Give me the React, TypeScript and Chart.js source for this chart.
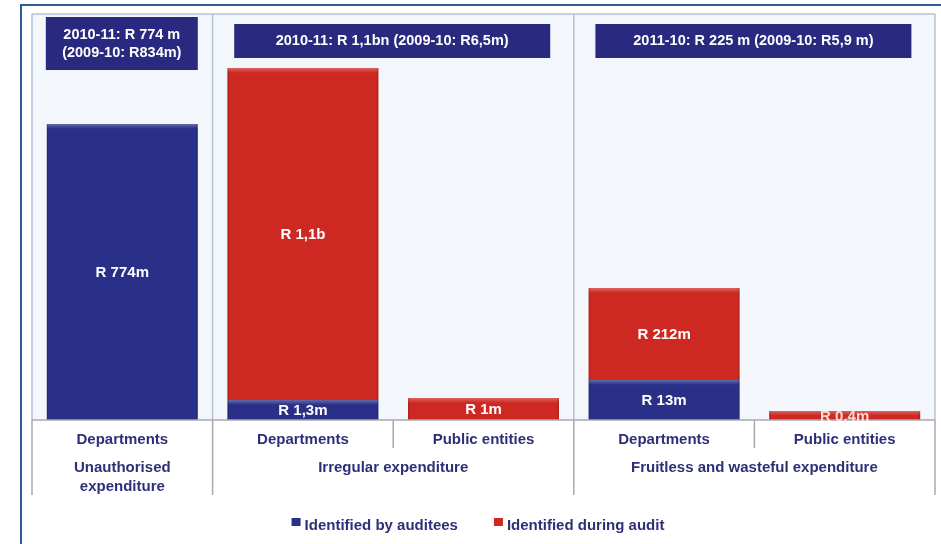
import React, { useEffect, useRef } from "react";
import { Chart, registerables } from "chart.js";

Chart.register(...registerables);

// Categories (bars) and their groups
const categories = ["Departments", "Departments", "Public entities", "Departments", "Public entities"];
const groupSpans = [[0, 0], [1, 2], [3, 4]];
const groupLabels = [["Unauthorised", "expenditure"], ["Irregular expenditure"], ["Fruitless and wasteful expenditure"]];
const headerLines = [
  ["2010-11: R 774 m", "(2009-10: R834m)"],
  ["2010-11: R 1,1bn (2009-10: R6,5m)"],
  ["2011-10: R 225 m (2009-10: R5,9 m)"],
];

// Series: the source graphic is not drawn to scale, so these are the drawn bar heights
// (relative units read from the picture); the real amounts are in the label arrays.
const seriesNames = ["Identified by auditees", "Identified during audit"];
const auditeesHeights = [296, 20, 0, 40, 0];
const auditHeights = [0, 332, 22, 92, 9];
const auditeesLabels = ["R 774m", "R 1,3m", "", "R 13m", ""];
const auditLabels = ["", "R 1,1b", "R 1m", "R 212m", "R 0,4m"];
const yMax = 406;

const BLUE = "#2a2f87";
const RED = "#cd2822";
const NAVY_TEXT = "#2e2f78";
const FONT = "'Liberation Sans', Arial, sans-serif";

const decorPlugin = {
  id: "decor",
  beforeDraw(chart: any) {
    const ctx = chart.ctx;
    const area = chart.chartArea;
    const xs = chart.scales.x;
    ctx.save();
    ctx.fillStyle = "#ffffff";
    ctx.fillRect(0, 0, chart.width, chart.height);
    // outer frame
    ctx.strokeStyle = "#2d5c9c";
    ctx.lineWidth = 2;
    ctx.beginPath();
    ctx.moveTo(21, chart.height);
    ctx.lineTo(21, 5);
    ctx.lineTo(chart.width, 5);
    ctx.stroke();
    // panel background
    ctx.fillStyle = "#f3f6fa";
    ctx.fillRect(area.left, area.top, area.right - area.left, area.bottom - area.top);
    ctx.strokeStyle = "#b4c2d6";
    ctx.lineWidth = 1.5;
    ctx.beginPath();
    ctx.moveTo(area.left, area.top);
    ctx.lineTo(area.right, area.top);
    ctx.stroke();
    // group separators
    const bottomY = area.bottom + 75;
    const bounds: number[] = [area.left];
    for (let g = 1; g < groupSpans.length; g++) {
      const a = xs.getPixelForValue(groupSpans[g - 1][1]);
      const b = xs.getPixelForValue(groupSpans[g][0]);
      bounds.push((a + b) / 2);
    }
    bounds.push(area.right);
    bounds.forEach((x) => {
      ctx.strokeStyle = "#b4c2d6";
      ctx.beginPath();
      ctx.moveTo(x, area.top);
      ctx.lineTo(x, area.bottom);
      ctx.stroke();
      ctx.strokeStyle = "#a8a8b0";
      ctx.beginPath();
      ctx.moveTo(x, area.bottom);
      ctx.lineTo(x, bottomY);
      ctx.stroke();
    });
    ctx.restore();
  },
  afterDatasetsDraw(chart: any) {
    const ctx = chart.ctx;
    const area = chart.chartArea;
    const xs = chart.scales.x;
    ctx.save();

    // bevel highlight on top of each bar segment
    [0, 1].forEach((di) => {
      const meta = chart.getDatasetMeta(di);
      meta.data.forEach((el: any) => {
        const h = Math.abs(el.base - el.y);
        if (h < 1) return;
        const x0 = el.x - el.width / 2;
        const band = Math.min(5, h / 2);
        const g = ctx.createLinearGradient(0, el.y, 0, el.y + band);
        g.addColorStop(0, "rgba(255,255,255,0.28)");
        g.addColorStop(1, "rgba(255,255,255,0)");
        ctx.fillStyle = g;
        ctx.fillRect(x0, el.y, el.width, band);
        ctx.fillStyle = "rgba(0,0,0,0.12)";
        ctx.fillRect(x0, el.y, 1.5, h);
        ctx.fillRect(x0 + el.width - 1.5, el.y, 1.5, h);
      });
    });

    // baseline
    ctx.strokeStyle = "#a8a8b0";
    ctx.lineWidth = 1.5;
    ctx.beginPath();
    ctx.moveTo(area.left, area.bottom);
    ctx.lineTo(area.right, area.bottom);
    ctx.stroke();
    // short separators between categories within groups
    groupSpans.forEach(([s, e]) => {
      for (let i = s; i < e; i++) {
        const x = (xs.getPixelForValue(i) + xs.getPixelForValue(i + 1)) / 2;
        ctx.beginPath();
        ctx.moveTo(x, area.bottom);
        ctx.lineTo(x, area.bottom + 28);
        ctx.stroke();
      }
    });

    // bar labels
    ctx.textAlign = "center";
    ctx.textBaseline = "middle";
    ctx.font = `bold 15px ${FONT}`;
    const labelSets = [auditeesLabels, auditLabels];
    labelSets.forEach((labels, di) => {
      const meta = chart.getDatasetMeta(di);
      labels.forEach((t, i) => {
        if (!t) return;
        const el = meta.data[i];
        const cy = (el.y + el.base) / 2;
        ctx.fillStyle = Math.abs(el.base - el.y) < 12 ? "rgba(255,225,220,0.95)" : "#ffffff";
        ctx.fillText(t, el.x, cy + 1);
      });
    });

    // header boxes
    const barMeta = chart.getDatasetMeta(0);
    groupSpans.forEach(([s, e], g) => {
      const lines = headerLines[g];
      let x0: number, x1: number, y0: number, y1: number;
      if (s === e) {
        const el = barMeta.data[s];
        x0 = el.x - el.width / 2 - 1;
        x1 = el.x + el.width / 2;
        y0 = area.top + 3;
        y1 = area.top + 56;
      } else {
        const left = (xs.getPixelForValue(s) + xs.getPixelForValue(s - 1)) / 2;
        const right = e + 1 < categories.length ? (xs.getPixelForValue(e) + xs.getPixelForValue(e + 1)) / 2 : area.right;
        const cx = (left + right) / 2;
        x0 = cx - 159;
        x1 = cx + 157;
        y0 = area.top + 10;
        y1 = area.top + 44;
      }
      ctx.fillStyle = "#29297f";
      ctx.fillRect(x0, y0, x1 - x0, y1 - y0);
      ctx.fillStyle = "#ffffff";
      ctx.font = `bold 14.5px ${FONT}`;
      const cx = (x0 + x1) / 2;
      const cy = (y0 + y1) / 2;
      const lh = 18;
      lines.forEach((l, k) => {
        ctx.fillText(l, cx, cy + (k - (lines.length - 1) / 2) * lh);
      });
    });

    // category labels
    ctx.fillStyle = NAVY_TEXT;
    ctx.font = `bold 15px ${FONT}`;
    categories.forEach((c, i) => {
      ctx.fillText(c, xs.getPixelForValue(i), area.bottom + 20);
    });
    // group labels
    groupSpans.forEach(([s, e], g) => {
      const cx = (xs.getPixelForValue(s) + xs.getPixelForValue(e)) / 2;
      groupLabels[g].forEach((l, k) => {
        ctx.fillText(l, cx, area.bottom + 48 + k * 19);
      });
    });

    // legend
    const colors = [BLUE, RED];
    ctx.font = `bold 15px ${FONT}`;
    const markerW = 9;
    const markerGap = 4;
    const itemGap = 36;
    const widths = seriesNames.map((n) => markerW + markerGap + ctx.measureText(n).width);
    const total = widths.reduce((a, b) => a + b, 0) + itemGap * (seriesNames.length - 1);
    let lx = 478 - total / 2;
    const ly = 525;
    ctx.textAlign = "left";
    seriesNames.forEach((n, i) => {
      ctx.fillStyle = colors[i];
      ctx.fillRect(lx, ly - 7, markerW, 8);
      ctx.fillStyle = NAVY_TEXT;
      ctx.fillText(n, lx + markerW + markerGap, ly + 1);
      lx += widths[i] + itemGap;
    });
    ctx.restore();
  },
};

export default function App() {
  const ref = useRef<HTMLCanvasElement | null>(null);
  useEffect(() => {
    if (!ref.current) return;
    const chart = new Chart(ref.current, {
      type: "bar",
      data: {
        labels: categories,
        datasets: [
          { label: seriesNames[0], data: auditeesHeights, backgroundColor: BLUE, borderWidth: 0 },
          { label: seriesNames[1], data: auditHeights, backgroundColor: RED, borderWidth: 0 },
        ],
      },
      options: {
        responsive: false,
        animation: false,
        devicePixelRatio: 1,
        layout: { padding: { left: 32, right: 6, top: 14, bottom: 124 } },
        datasets: { bar: { categoryPercentage: 1, barPercentage: 0.836 } },
        scales: {
          x: { stacked: true, display: false },
          y: { stacked: true, display: false, min: 0, max: yMax },
        },
        plugins: { legend: { display: false }, tooltip: { enabled: false } },
      },
      plugins: [decorPlugin],
    });
    return () => chart.destroy();
  }, []);
  return (
    <div style={{ position: "absolute", left: 0, top: 0, width: 941, height: 544 }}>
      <canvas ref={ref} width={941} height={544} style={{ display: "block" }} />
    </div>
  );
}
